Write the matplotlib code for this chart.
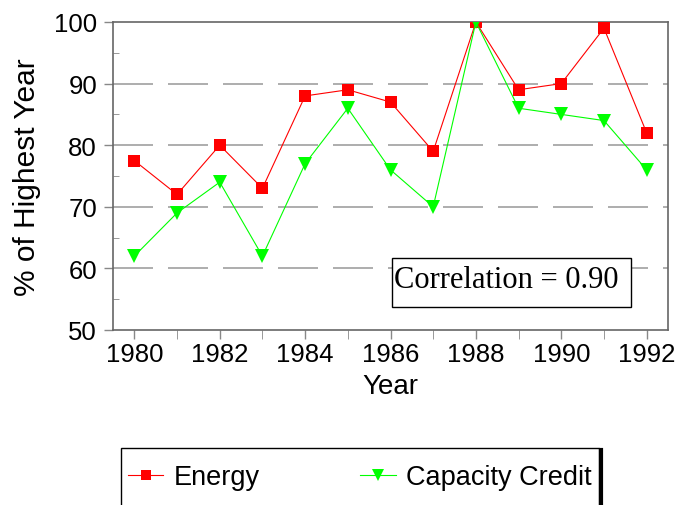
import matplotlib

matplotlib.use("Agg")
import matplotlib.pyplot as plt
from matplotlib.patches import Rectangle
from matplotlib.lines import Line2D
from matplotlib.ticker import MultipleLocator

YEARS = list(range(1980, 1993))
ENERGY = [77.5, 72, 80, 73, 88, 89, 87, 79, 100, 89, 90, 99, 82]
CAPACITY = [62, 69, 74, 62, 77, 86, 76, 70, 100, 86, 85, 84, 76]
X_TICKS = list(range(1980, 1993, 2))
Y_TICKS = [50, 60, 70, 80, 90, 100]

W, H = 680, 506


def fx(px):
    return px / W


def fy(py):
    return 1 - py / H


plt.rcParams["font.family"] = ["Liberation Sans", "DejaVu Sans"]

fig = plt.figure(figsize=(W / 100, H / 100), dpi=100)
ax = fig.add_axes([fx(113), fy(331), fx(668 - 113), (331 - 23) / H])

for y in Y_TICKS[1:-1]:
    ax.axhline(y, color="#a0a0a0", linewidth=1.2, dashes=(24, 9), zorder=1)

ax.plot(YEARS, ENERGY, color="#ff0000", linewidth=0.8, marker="s",
        markersize=9, markeredgewidth=0, label="Energy", zorder=3)
ax.plot(YEARS, CAPACITY, color="#00ff00", linewidth=0.8, marker="v",
        markersize=10, markeredgewidth=0, label="Capacity Credit", zorder=4)

ax.set_xlim(1979.5, 1992.5)
ax.set_ylim(50, 100)
ax.set_xticks(X_TICKS)
ax.xaxis.set_minor_locator(MultipleLocator(1))
ax.set_yticks(Y_TICKS)
ax.yaxis.set_minor_locator(MultipleLocator(5))
ax.tick_params(axis="both", which="major", labelsize=18.5, length=6.5,
               color="#888888", direction="out", width=1)
ax.tick_params(axis="x", which="minor", length=6.5, color="#888888", direction="out")
ax.tick_params(axis="y", which="minor", length=4, color="#888888", direction="in")
ax.tick_params(axis="x", pad=2)
ax.tick_params(axis="y", pad=5)
for spine in ax.spines.values():
    spine.set_color("#666666")
    spine.set_linewidth(1.2)

ax.set_xlabel("Year", fontsize=20, labelpad=5)
ax.set_ylabel("% of Highest Year", fontsize=21.5, labelpad=9)

# correlation note in its own box
fig.patches.append(Rectangle((fx(392), fy(308)), fx(631 - 392), (308 - 259) / H,
                             transform=fig.transFigure, facecolor="white",
                             edgecolor="black", linewidth=1, zorder=5))
fig.text(fx(394), fy(288), "Correlation = 0.90", family=["Liberation Serif"],
         fontsize=22, ha="left", va="baseline", zorder=6)

# legend frame running off the bottom edge, with a dark shadow on the right
fig.patches.append(Rectangle((fx(121), -0.05), fx(599 - 121), 0.05 + fy(449),
                             transform=fig.transFigure, facecolor="white",
                             edgecolor="black", linewidth=1))
fig.lines.append(Line2D([fx(601), fx(601)], [0, fy(451)],
                        transform=fig.transFigure, color="black", linewidth=3))

fig.legend(loc="center left", bbox_to_anchor=(fx(128), fy(478)), ncol=2,
           frameon=False, fontsize=19.5, handlelength=1.3, handletextpad=0.4,
           columnspacing=3.7, borderaxespad=0, borderpad=0, markerscale=0.85)

fig.savefig("out.png", dpi=100)
